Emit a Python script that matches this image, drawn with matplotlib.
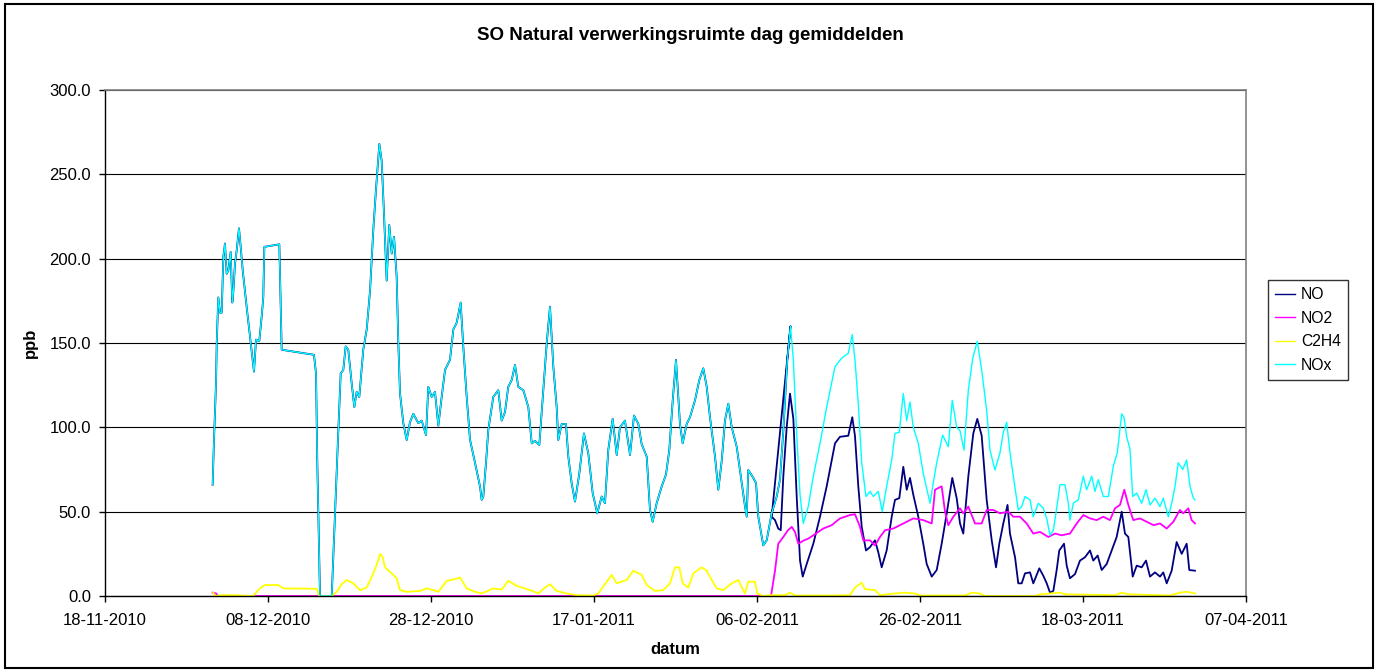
import datetime as dt
import matplotlib
matplotlib.use("Agg")
import matplotlib.pyplot as plt
import matplotlib.dates as mdates
from matplotlib.patches import Rectangle

plt.rcParams['font.family'] = ['Liberation Sans', 'DejaVu Sans']

START = dt.datetime(2010, 11, 18)

# ---- data: days since 18-11-2010, values in ppb ----
nox_days = [13.21, 13.37, 13.62, 13.71, 13.90, 14.11, 14.32, 14.52, 14.72, 14.93, 15.13, 15.42, 15.62, 15.74,
            15.95, 16.16, 16.44, 16.65, 16.90, 17.39, 17.79, 18.28, 18.53, 18.93, 19.23, 19.42, 19.55, 21.39,
            21.68, 25.64, 25.89, 26.05, 26.38, 27.82, 28.22, 28.63, 28.92, 29.24, 29.53, 29.85, 30.27, 30.59,
            30.88, 31.20, 31.69, 32.11, 32.52, 32.92, 33.25, 33.66, 33.95, 34.23, 34.56, 34.88, 35.18, 35.46,
            35.79, 35.99, 36.20, 36.60, 37.02, 37.42, 37.83, 38.44, 38.86, 39.39, 39.67, 40.09, 40.49, 40.90,
            41.31, 41.72, 42.33, 42.74, 43.15, 43.64, 43.96, 44.38, 44.79, 45.40, 46.01, 46.22, 46.42, 46.75,
            47.03, 47.64, 48.26, 48.67, 49.08, 49.48, 49.90, 50.31, 50.71, 51.33, 51.94, 52.36, 52.76, 53.29,
            53.78, 54.20, 54.60, 55.01, 55.42, 55.62, 56.04, 56.56, 56.85, 57.26, 57.67, 58.20, 58.77, 59.30,
            59.84, 60.40, 60.94, 61.35, 61.75, 62.29, 62.79, 63.19, 63.80, 64.42, 64.91, 65.44, 65.85, 66.47,
            66.87, 67.20, 67.69, 68.31, 68.83, 69.24, 69.66, 70.06, 70.55, 70.88, 71.37, 71.78, 72.39, 72.92,
            73.41, 73.83, 74.23, 74.85, 75.25, 75.67, 76.07, 76.48, 76.90, 77.51, 78.12, 78.53, 78.74, 78.93,
            79.55, 79.88, 80.16, 80.77, 81.19,
            81.80, 82.42, 82.82, 83.23, 83.72, 84.11, 84.46, 84.87, 85.28, 85.68, 86.29, 86.91, 87.73, 88.55,
            89.57, 90.39, 91.20, 91.69, 92.02, 92.43, 92.85, 93.37, 93.87, 94.27, 94.88, 95.37, 95.91, 96.53,
            96.93, 97.46, 97.95, 98.37, 98.77, 99.18, 99.79, 100.40, 101.23, 101.63, 102.05, 102.78, 103.47,
            103.96, 104.50, 104.91, 105.40, 105.93, 106.47, 107.03, 107.57, 108.18, 108.59, 109.20, 109.82,
            110.22, 110.64, 111.04, 111.45, 112.06, 112.48, 112.88, 113.50, 113.90, 114.52, 115.13, 115.55,
            115.95, 116.36, 116.77, 117.18, 117.79, 118.20, 118.40, 118.81, 119.42, 120.04, 120.45, 121.07,
            121.47, 121.88, 122.49, 123.11, 123.72, 124.21, 124.75, 125.03, 125.36, 125.77, 126.10, 126.59,
            127.20, 127.73, 128.22, 128.83, 129.45, 129.85, 130.47, 130.88, 131.29, 131.69, 132.23, 132.72,
            133.13, 133.54, 133.74]
nox_vals = [66, 92, 126, 150, 177, 168, 168, 201, 209, 191, 193, 204, 174, 180,
            197, 205, 218, 207, 193, 171, 154, 133, 152, 151, 166, 177, 207, 208.5,
            146, 143, 132, 79, 0, 0, 49, 98, 132, 134, 148, 146, 126, 112,
            121, 118, 146, 158, 181, 217, 241, 268, 258, 227, 187, 220, 203, 213,
            189, 150, 120, 102.5, 92.5, 103, 108, 102.5, 104, 95.4, 124, 118, 121, 101,
            118, 134, 140, 158, 162, 174, 148, 118, 92.5, 79, 65, 57, 59, 79,
            98.4, 118, 122, 104, 109, 124, 128, 137, 124, 122, 112, 90.5, 92, 89.5,
            122, 150, 171.5, 136, 112, 92.5, 102, 102, 82.6, 66.8, 56, 72.7, 96.4, 84.6,
            61, 49, 59, 55, 86.5, 105, 83.6, 100, 104, 83.6, 107, 102, 90, 82.6,
            51, 44, 55, 65, 72, 86.5, 116, 140, 102, 90.5, 102, 106, 116, 128,
            135, 124, 106, 82.6, 63, 80, 104, 114, 100, 88.5, 67, 53, 47, 74.7,
            70, 67, 47, 30, 33,
            49, 59, 69, 98, 140, 160, 140, 96, 60, 43, 53, 71, 90.5, 112,
            136, 141, 144, 155, 140, 114, 79, 59, 62, 59, 62, 50, 65, 80.6,
            96.4, 97, 120, 104, 115, 100, 90.5, 72.7, 55, 67, 79, 95.4, 88.5,
            116, 100, 98, 86.5, 122, 141, 151, 134, 110, 86.5, 74.7, 85,
            97, 103, 85, 71, 51, 53, 59, 57, 47, 55, 52, 46,
            36, 39, 52, 66, 66, 55, 45, 55, 57, 71, 63, 71,
            62, 69, 59, 59, 77, 85, 108, 106, 94.4, 87, 59, 61,
            55, 63, 54, 58, 53, 58, 47, 55, 65, 79, 75, 80.6,
            65, 58, 57]

# NO follows NOx exactly while NO2 is zero (up to ~08-02-2011)
no_days_late = [81.80, 82.21, 82.61, 82.91, 83.23, 83.64, 84.05, 84.46, 84.87, 85.28, 85.61, 86.10, 86.91,
                87.73, 88.55, 89.57, 90.18, 91.20, 91.69, 92.02, 92.43, 92.85, 93.37, 93.87, 94.48, 94.88,
                95.30, 95.91, 96.53, 96.93, 97.46, 97.95, 98.37, 98.77, 99.18, 99.79, 100.40, 100.82,
                101.44, 102.05, 102.66, 103.28, 103.96, 104.50, 104.91, 105.31, 105.93, 106.54, 107.03,
                107.57, 108.18, 108.80, 109.33, 109.73, 110.22, 110.74, 111.04, 111.66, 112.06, 112.48,
                112.88, 113.50, 113.90, 114.64, 115.13, 115.55, 115.95, 116.36, 116.77, 117.09, 117.67,
                118.00, 118.40, 119.02, 119.63, 120.25, 120.86, 121.26, 121.80, 122.29, 122.91, 123.52,
                124.13, 124.75, 125.15, 125.56, 126.10, 126.59, 127.20, 127.73, 128.22, 128.83, 129.45,
                129.85, 130.27, 130.88, 131.49, 132.11, 132.72, 133.04, 133.74]
no_vals_late = [47, 45, 40, 39, 71, 100, 120, 105, 59, 21, 11.5, 19, 31,
                47, 65, 90.5, 94.4, 95, 106, 95, 65, 41, 27, 29, 33, 26,
                17, 27, 47, 57, 58, 76.6, 63, 70, 60, 47, 31, 19,
                11.5, 15.4, 31, 49, 70, 58, 43, 37, 71, 96.4, 105,
                95, 57, 33, 17, 31, 43, 54, 37, 23, 7.5, 7.5,
                13.4, 14, 7.5, 16.4, 12, 7.5, 2, 3, 15.4, 27, 31,
                18, 10.5, 13, 21, 23, 27, 21, 24, 15.4, 19, 27,
                35, 50, 37, 35, 11.5, 18, 17, 21, 11.5, 14, 11.5,
                14, 7.5, 15, 32, 25, 31, 15.4, 15]

no2_days = [13.21, 13.62, 13.87, 81.72, 82.21, 82.61, 83.23, 83.80, 84.26, 84.66, 85.07, 85.77, 86.29,
            86.91, 88.13, 89.17, 90.18, 91.41, 92.02, 92.64, 93.04, 93.87, 94.48, 95.09, 95.71, 96.72,
            97.55, 98.37, 99.18, 100.40, 101.44, 101.84, 102.66, 103.07, 103.47, 104.09, 104.91, 105.31,
            105.93, 106.75, 107.57, 108.18, 109.00, 109.82, 110.83, 111.45, 112.27, 113.09, 113.90,
            114.72, 115.74, 116.56, 117.39, 118.40, 119.23, 120.04, 120.86, 121.68, 122.49, 123.31,
            123.93, 124.54, 125.07, 125.56, 126.17, 126.99, 127.82, 128.65, 129.45, 130.27, 131.08,
            131.90, 132.31, 132.92, 133.33, 133.74]
no2_vals = [2, 1.5, 0, 0, 15, 31, 35, 39, 41, 38, 31, 33, 34,
            36, 40, 42, 46, 48, 48.5, 41, 33, 33, 30, 35, 39, 40,
            42, 44, 46, 45, 43, 63, 65, 50, 42, 47, 52, 49,
            53, 43, 43, 51, 51, 49, 50, 47, 47, 43, 37,
            38, 35, 37, 36, 37, 43, 48, 46, 45, 47, 45,
            52, 54, 63, 54, 45, 46, 44, 42, 43, 40, 44,
            51, 49, 52, 45, 43]

c2h4_days = [13.29, 13.50, 14.32, 15.74, 18.20, 18.61, 19.14, 19.63, 21.26, 21.88, 25.98, 26.26, 27.82,
             28.43, 29.04, 29.66, 30.47, 31.29, 32.11, 32.92, 33.53, 33.74, 34.07, 34.36, 34.72, 35.18,
             35.79, 36.20, 37.02, 38.65, 39.47, 40.28, 40.90, 41.93, 42.94, 43.56, 44.38, 45.40, 46.22,
             47.64, 48.67, 49.48, 50.52, 52.15, 53.16, 53.99, 54.60, 55.42, 56.63, 57.88, 59.91, 60.53,
             61.56, 62.17, 62.79, 64.01, 64.82, 65.85, 66.47, 67.48, 68.50, 69.33, 69.94, 70.47, 70.88,
             71.57, 72.18, 73.21, 73.83, 74.44, 75.06, 75.87, 76.90, 77.71, 78.33, 78.53, 78.93, 79.75,
             80.04, 80.77, 81.60, 83.44, 84.05, 84.66, 89.57, 91.41, 92.02, 92.85, 93.25, 94.48, 95.09,
             96.93, 98.16, 99.39, 100.00, 105.52, 106.38, 107.36, 107.98, 114.11, 114.72, 115.95,
             117.18, 117.79, 123.93, 124.75, 125.52, 130.67, 131.90, 132.76, 133.74]
c2h4_vals = [2, 0, 0.5, 0.5, 0, 2.5, 5, 6.5, 6.5, 4.5, 4.3, 0, 0,
             2.5, 7, 9.5, 7.5, 3.5, 5, 13.4, 21, 25, 23, 17, 15.4, 13.4,
             10.5, 3.5, 2.5, 3, 4.5, 3.5, 2.5, 9, 10, 11, 4.5, 2.5, 1.5,
             4.5, 3.8, 9, 6, 3.5, 1.5, 5, 7, 3, 1.5, 0.5, 0.3, 1.5,
             8.5, 12.5, 7.5, 9.5, 15, 12.5, 6.5, 3, 3.5, 7.5, 17, 17, 7.5,
             5, 13.4, 17, 15, 9.5, 4.5, 3.5, 7.5, 9.5, 3, 1.5, 8.5, 8.5,
             1.5, 0, 0.5, 0.5, 2, 0.3, 0.3, 0.5, 5, 7.9, 4, 3.5, 0.5,
             1.5, 2, 1.5, 0.3, 0.3, 2, 1.5, 0, 0, 1, 1.5,
             2, 1, 0.5, 2, 1, 0.3, 2, 2.5, 1.5]

n_early = 165  # NOx points up to 81.19 days
no_days = nox_days[:n_early] + no_days_late
no_vals = nox_vals[:n_early] + no_vals_late

series_names = ["NO", "NO2", "C2H4", "NOx"]
series_colors = ["#000080", "#FF00FF", "#FFFF00", "#00FFFF"]


def to_dates(days):
    return [START + dt.timedelta(days=d) for d in days]


fig = plt.figure(figsize=(13.8, 6.72), dpi=100)
ax = fig.add_axes([105 / 1380, 1 - 596 / 672, 1141 / 1380, 506 / 672])

data = [(no_days, no_vals), (no2_days, no2_vals), (c2h4_days, c2h4_vals), (nox_days, nox_vals)]
widths = [1.3, 1.3, 1.3, 1.0]
for (d, v), name, col, lw in zip(data, series_names, series_colors, widths):
    ax.plot(to_dates(d), v, color=col, lw=lw, label=name, solid_joinstyle='round')

ax.set_xlim(START, START + dt.timedelta(days=140))
ax.set_ylim(0, 300)
ax.set_yticks(range(0, 301, 50))
ax.yaxis.set_major_formatter(matplotlib.ticker.FormatStrFormatter('%.1f'))
ax.set_xticks([START + dt.timedelta(days=20 * i) for i in range(8)])
ax.xaxis.set_major_formatter(mdates.DateFormatter('%d-%m-%Y'))

ax.grid(axis='y', color='black', lw=0.8)
ax.set_axisbelow(True)
for side in ['top', 'right']:
    ax.spines[side].set_color('#808080')
    ax.spines[side].set_linewidth(1.2)
for side in ['left', 'bottom']:
    ax.spines[side].set_color('black')
    ax.spines[side].set_linewidth(1.0)

ax.tick_params(axis='both', direction='out', length=4, width=1, colors='black', labelsize=12)
ax.tick_params(axis='x', pad=8)
ax.tick_params(axis='y', pad=6)

ax.set_xlabel('datum', fontsize=12, fontweight='bold', labelpad=10)
ax.set_ylabel('ppb', fontsize=12, fontweight='bold', labelpad=8)
fig.text(0.5, 1 - 36 / 672, 'SO Natural verwerkingsruimte dag gemiddelden', ha='center', va='center',
         fontsize=13.5, fontweight='bold')

leg = ax.legend(loc='upper left', bbox_to_anchor=(1268 / 1380, 1 - 280 / 672), bbox_transform=fig.transFigure,
                borderaxespad=0, fontsize=11.3, frameon=True, fancybox=False, edgecolor='black',
                handlelength=1.3, handletextpad=0.35, labelspacing=0.55, borderpad=0.45)
leg.get_frame().set_linewidth(1.0)
for line in leg.get_lines():
    line.set_linewidth(1.0)

fig.patches.append(Rectangle((5 / 1380, 4 / 672), 1368 / 1380, 664 / 672, transform=fig.transFigure,
                             fill=False, edgecolor='black', lw=1.5))

fig.savefig('out.png', dpi=100)
